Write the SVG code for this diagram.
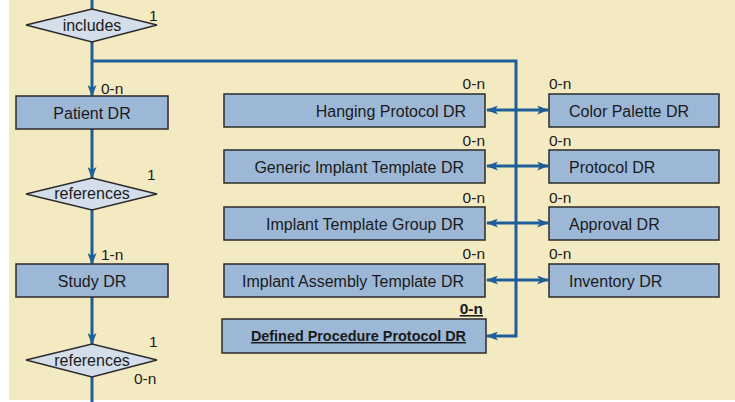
<svg xmlns="http://www.w3.org/2000/svg" width="735" height="402" viewBox="0 0 735 402">
  <style>
    .bg { fill: #F3EAC2; }
    .box { fill: #9DB8D6; stroke: #2B2B2B; stroke-width: 1.5; }
    .dia { fill: #D3DEEA; stroke: #2B2B2B; stroke-width: 1.5; }
    .lbl { font-family: "Liberation Sans", Arial, sans-serif; font-size: 16px; fill: #1A1A1A; }
    .card { font-family: "Liberation Sans", Arial, sans-serif; font-size: 15.5px; fill: #1A1A1A; }
    .link { fill: none; stroke: #1F5F99; stroke-width: 3; }
    .bold { font-weight: bold; font-size: 14.4px; text-decoration: underline; }
  </style>
  <defs>
    <marker id="arrow" viewBox="0 0 12 9" refX="11" refY="4.5" markerWidth="12" markerHeight="9" markerUnits="userSpaceOnUse" orient="auto-start-reverse">
      <path d="M0,0 L12,4.5 L0,9 L3,4.5 z" fill="#1F5F99"/>
    </marker>
  </defs>

  <rect x="0" y="0" width="735" height="402" fill="#FFFFFF"/>
  <rect class="bg" x="9" y="0" width="726" height="400"/>

  <!-- connectors -->
  <g id="connectors">
    <line class="link" x1="92" y1="0" x2="92" y2="9"/>
    <line class="link" x1="92" y1="42" x2="92" y2="96" marker-end="url(#arrow)"/>
    <polyline class="link" points="92,61 516,61 516,336 487,336" marker-end="url(#arrow)"/>
    <line class="link" x1="92" y1="129" x2="92" y2="178" marker-end="url(#arrow)"/>
    <line class="link" x1="92" y1="210" x2="92" y2="264" marker-end="url(#arrow)"/>
    <line class="link" x1="92" y1="297" x2="92" y2="344" marker-end="url(#arrow)"/>
    <line class="link" x1="92" y1="377" x2="92" y2="402"/>
    <line class="link" x1="487" y1="110" x2="548" y2="110" marker-start="url(#arrow)" marker-end="url(#arrow)"/>
    <line class="link" x1="487" y1="166" x2="548" y2="166" marker-start="url(#arrow)" marker-end="url(#arrow)"/>
    <line class="link" x1="487" y1="223" x2="548" y2="223" marker-start="url(#arrow)" marker-end="url(#arrow)"/>
    <line class="link" x1="487" y1="280" x2="548" y2="280" marker-start="url(#arrow)" marker-end="url(#arrow)"/>
  </g>

  <!-- left column -->
  <g id="includes">
    <polygon class="dia" points="26,25 92,9 157,25 92,42"/>
    <text class="lbl" x="92" y="31" text-anchor="middle">includes</text>
    <text class="card" x="149" y="21">1</text>
    <text class="card" x="101" y="94">0-n</text>
  </g>
  <g id="patient">
    <rect class="box" x="16" y="96" width="152" height="33"/>
    <text class="lbl" x="92" y="119" text-anchor="middle">Patient DR</text>
  </g>
  <g id="references1">
    <polygon class="dia" points="26,194 92,178 157,194 92,210"/>
    <text class="lbl" x="92" y="199" text-anchor="middle">references</text>
    <text class="card" x="147" y="180">1</text>
    <text class="card" x="101" y="260">1-n</text>
  </g>
  <g id="study">
    <rect class="box" x="16" y="264" width="152" height="33"/>
    <text class="lbl" x="92" y="287" text-anchor="middle">Study DR</text>
  </g>
  <g id="references2">
    <polygon class="dia" points="26,360 92,344 157,360 92,377"/>
    <text class="lbl" x="92" y="366" text-anchor="middle">references</text>
    <text class="card" x="149" y="347">1</text>
    <text class="card" x="134" y="384">0-n</text>
  </g>

  <!-- middle column -->
  <g id="hanging">
    <rect class="box" x="224" y="94" width="261" height="33"/>
    <text class="lbl" x="466" y="117" text-anchor="end">Hanging Protocol DR</text>
    <text class="card" x="485" y="89" text-anchor="end">0-n</text>
  </g>
  <g id="generic">
    <rect class="box" x="224" y="150" width="261" height="33"/>
    <text class="lbl" x="464" y="173" text-anchor="end">Generic Implant Template DR</text>
    <text class="card" x="485" y="146" text-anchor="end">0-n</text>
  </g>
  <g id="group">
    <rect class="box" x="224" y="207" width="261" height="33"/>
    <text class="lbl" x="464" y="230" text-anchor="end">Implant Template Group DR</text>
    <text class="card" x="485" y="203" text-anchor="end">0-n</text>
  </g>
  <g id="assembly">
    <rect class="box" x="224" y="264" width="261" height="33"/>
    <text class="lbl" x="464" y="287" text-anchor="end">Implant Assembly Template DR</text>
    <text class="card" x="485" y="259" text-anchor="end">0-n</text>
  </g>
  <g id="defined">
    <rect class="box" x="222" y="319" width="264" height="34"/>
    <text class="lbl bold" x="466" y="341" text-anchor="end">Defined Procedure Protocol DR</text>
    <text class="card bold" x="483" y="314" text-anchor="end" style="font-size:15.5px">0-n</text>
  </g>

  <!-- right column -->
  <g id="palette">
    <rect class="box" x="549" y="94" width="170" height="33"/>
    <text class="lbl" x="569" y="117">Color Palette DR</text>
    <text class="card" x="549" y="89">0-n</text>
  </g>
  <g id="protocol">
    <rect class="box" x="549" y="150" width="170" height="33"/>
    <text class="lbl" x="569" y="173">Protocol DR</text>
    <text class="card" x="549" y="146">0-n</text>
  </g>
  <g id="approval">
    <rect class="box" x="549" y="207" width="170" height="33"/>
    <text class="lbl" x="569" y="230">Approval DR</text>
    <text class="card" x="549" y="203">0-n</text>
  </g>
  <g id="inventory">
    <rect class="box" x="549" y="264" width="170" height="33"/>
    <text class="lbl" x="569" y="287">Inventory DR</text>
    <text class="card" x="549" y="259">0-n</text>
  </g>
</svg>
